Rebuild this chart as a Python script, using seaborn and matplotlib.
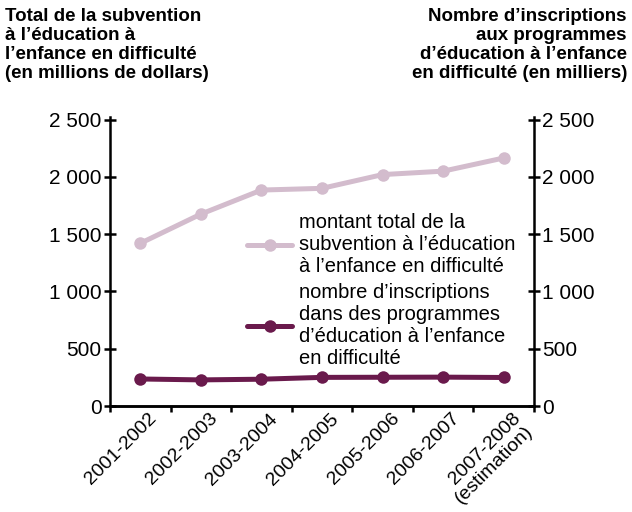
import matplotlib
matplotlib.use("Agg")
import matplotlib.pyplot as plt
import matplotlib.transforms as mtransforms
import seaborn as sns
import pandas as pd
import numpy as np

# données
annees = ["2001-2002", "2002-2003", "2003-2004", "2004-2005",
          "2005-2006", "2006-2007", "2007-2008\n(estimation)"]
subvention = [1420, 1675, 1885, 1900, 2020, 2050, 2165]   # millions $
inscriptions = [236, 228, 234, 250, 251, 252, 249]         # milliers

lbl_subv = "montant total de la\nsubvention à l\u2019éducation\nà l\u2019enfance en difficulté"
lbl_insc = ("nombre d\u2019inscriptions\ndans des programmes\n"
            "d\u2019éducation à l\u2019enfance\nen difficulté")

c_clair = "#d3bccd"
c_fonce = "#6a1a4c"

sns.set_style("ticks")
plt.rcParams['font.family'] = ['Liberation Sans', 'DejaVu Sans']
plt.rcParams.update({"text.color": "black", "xtick.color": "black",
                     "ytick.color": "black", "axes.edgecolor": "black"})

df = pd.DataFrame({"annee": annees, "subv": subvention, "insc": inscriptions})
df["x"] = np.arange(len(annees))

fig = plt.figure(figsize=(6.32, 5.12), dpi=100)
ax = fig.add_axes([0.174, 0.207, 0.671, 0.565])
ax2 = ax.twinx()

sns.lineplot(data=df, x="x", y="subv", ax=ax, color=c_clair, lw=3.6,
             marker="o", markersize=9, markeredgewidth=0, label=lbl_subv, legend=False)
sns.lineplot(data=df, x="x", y="insc", ax=ax2, color=c_fonce, lw=3.6,
             marker="o", markersize=9, markeredgewidth=0, label=lbl_insc, legend=False)

for a in (ax, ax2):
    a.set_ylim(0, 2525)
    a.set_xlim(-0.5, len(annees) - 0.5)
    a.set_yticks([0, 500, 1000, 1500, 2000, 2500])
    a.set_yticklabels(["0", "500", "1 000", "1 500", "2 000", "2 500"])
    a.set_xlabel("")
    a.set_ylabel("")
    a.spines["top"].set_visible(False)
    for s in a.spines.values():
        s.set_linewidth(1.8)

ax.spines["right"].set_visible(False)
ax2.spines["left"].set_visible(False)
ax.tick_params(axis="y", direction="inout", length=8, width=1.8, labelsize=15, pad=2)
ax2.tick_params(axis="y", direction="inout", length=8, width=1.8, labelsize=15, pad=2)

ax.set_xticks(df["x"])
ax.set_xticklabels(annees, rotation=45, ha="right", rotation_mode="anchor",
                   fontsize=14, linespacing=1.0)
ax.set_xticks(np.arange(-0.5, len(annees)), minor=True)
ax.tick_params(axis="x", which="major", length=0, pad=3)
ax.tick_params(axis="x", which="minor", direction="out", length=4, width=1.8)
off = mtransforms.ScaledTranslation(0.08, 0, fig.dpi_scale_trans)
for t in ax.get_xticklabels():
    t.set_transform(t.get_transform() + off)

h1, l1 = ax.get_legend_handles_labels()
h2, l2 = ax2.get_legend_handles_labels()
ax2.legend(h1 + h2, l1 + l2, loc="upper left", bbox_to_anchor=(0.305, 0.695),
           frameon=False, fontsize=14.5, handlelength=2.2, handletextpad=0.35,
           labelspacing=0.35, borderaxespad=0)

fig.text(0.008, 0.985, "Total de la subvention\nà l\u2019éducation à\n"
         "l\u2019enfance en difficulté\n(en millions de dollars)",
         ha="left", va="top", fontsize=13.5, fontweight="bold", linespacing=1.15)
fig.text(0.992, 0.985, "Nombre d\u2019inscriptions\naux programmes\n"
         "d\u2019éducation à l\u2019enfance\nen difficulté (en milliers)",
         ha="right", va="top", fontsize=13.5, fontweight="bold", linespacing=1.15,
         multialignment="right")

fig.savefig("out.png", dpi=100)
